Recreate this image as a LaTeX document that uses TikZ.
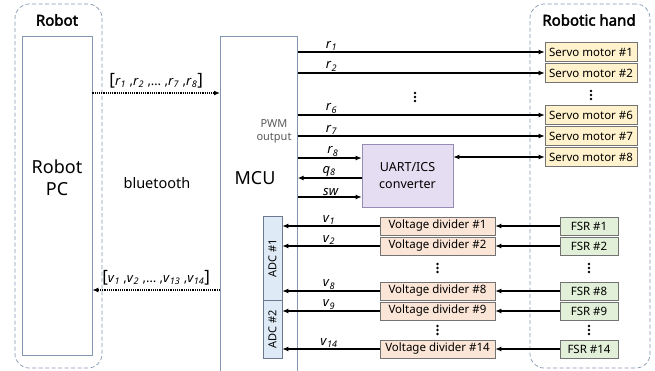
\documentclass[tikz,border=0pt]{standalone}
\usepackage{fontspec}
\setmainfont{Noto Sans}[AutoFakeBold=2.5]
\usetikzlibrary{arrows.meta,calc}

\definecolor{frame}{RGB}{132,151,176}
\definecolor{boxline}{RGB}{115,115,115}
\definecolor{servofill}{RGB}{255,242,204}
\definecolor{divfill}{RGB}{251,229,214}
\definecolor{fsrfill}{RGB}{226,240,217}
\definecolor{uartfill}{RGB}{229,222,242}
\definecolor{uartline}{RGB}{150,140,180}
\definecolor{adcfill}{RGB}{222,235,247}
\definecolor{pwmtext}{RGB}{89,89,89}

\newcommand{\varsub}[2]{\textit{#1}\textsubscript{\textit{#2}}}
\newcommand{\threedots}[2]{\foreach \k in {-4,0,4} \fill (#1,#2+\k) circle (1.4);}

\begin{document}
\begin{tikzpicture}[x=1pt,y=-1pt,
    group/.style={draw=frame,dash pattern=on 4pt off 2.5pt,rounded corners=14pt,line width=0.7pt},
    unit/.style={draw=frame,line width=0.7pt},
    part/.style={draw=boxline,line width=0.7pt,inner sep=0pt,font=\fontsize{11.5}{12}\selectfont},
    servo/.style={part,fill=servofill,minimum width=92,minimum height=19},
    divider/.style={part,fill=divfill,minimum width=115,minimum height=18},
    fsr/.style={part,fill=fsrfill,minimum width=58,minimum height=18},
    adc/.style={part,draw=frame!80!black,fill=adcfill,minimum width=19},
    sig/.style={line width=1.1pt,-{Latex[length=6pt,width=5pt]}},
    link/.style={line width=1.2pt,densely dotted,-{Latex[length=6pt,width=5pt]}},
    lab/.style={font=\fontsize{13}{13}\selectfont,inner sep=1pt,above},
    title/.style={font=\fontsize{15}{15}\selectfont\bfseries}]
    \pgfmathsetmacro{\xservo}{591} % servo column
    \pgfmathsetmacro{\xdiv}{437.5} % voltage divider column
    \pgfmathsetmacro{\xfsr}{589} % FSR column

    \path[use as bounding box] (0,0) rectangle (655,370);
    \clip (0,0) rectangle (655,370);

    % robot side
    \node[group,minimum width=87,minimum height=364] (robot) at (58.5,186) {};
    \node[title] (robottitle) at (57,20) {Robot};
    \node[unit,minimum width=70,minimum height=319] (pc) at (57,195.5) {};
    \node[font=\fontsize{18}{22}\selectfont,align=center] (pctext) at (57,178) {Robot\\PC};

    % hand side
    \node[group,minimum width=120,minimum height=364] (hand) at (590,186) {};
    \node[title] (handtitle) at (589,20) {Robotic hand};

    % MCU
    \node[unit,minimum width=77,minimum height=364,anchor=north west] (mcu) at (220,36) {};
    \node[font=\fontsize{18}{18}\selectfont] (mcutext) at (255,178) {MCU};
    \node[font=\fontsize{11}{13}\selectfont,text=pwmtext,align=center] (pwm) at (274,131) {PWM\\output};
    \node[font=\fontsize{14.5}{14.5}\selectfont] (bluetooth) at (157,183) {bluetooth};

    % bluetooth links
    \coordinate (up) at (0,93);
    \coordinate (down) at (0,290);
    \draw[link] (pc.east |- up) -- node[above=1pt,font=\fontsize{13}{13}\selectfont] (rlist)
        {{\fontsize{17}{17}\selectfont[}\varsub{r}{1} ,\varsub{r}{2} ,… ,\varsub{r}{7} ,\varsub{r}{8}{\fontsize{17}{17}\selectfont]}}
        (mcu.west |- up);
    \draw[link] (mcu.west |- down) -- node[above=1pt,font=\fontsize{13}{13}\selectfont] (vlist)
        {{\fontsize{17}{17}\selectfont[}\varsub{v}{1} ,\varsub{v}{2} ,… ,\varsub{v}{13} ,\varsub{v}{14}{\fontsize{17}{17}\selectfont]}}
        (pc.east |- down);

    % servo motors
    \foreach \n/\y in {1/52,2/73,6/115,7/136,8/157}
        \node[servo] (s\n) at (\xservo,\y) {Servo motor \#\n};
    \foreach \n in {1,2,6,7}
        \draw[sig] (mcu.east |- s\n) -- node[lab,pos=0.137] {\varsub{r}{\n}} (s\n.west);
    \threedots{415}{97} % dots PWM lines
    \threedots{\xservo}{95} % dots servos

    % UART/ICS converter
    \node[part,draw=uartline,fill=uartfill,minimum width=91,minimum height=63,align=center,
          font=\fontsize{12.5}{17}\selectfont] (uart) at (407.5,175.5) {UART/ICS\\converter};
    \coordinate (r8) at (0,158);
    \coordinate (q8) at (0,178);
    \coordinate (sw) at (0,197);
    \draw[sig] (mcu.east |- r8) -- node[lab,pos=0.55] {\varsub{r}{8}} (uart.west |- r8);
    \draw[sig] (uart.west |- q8) -- node[lab,pos=0.51] {\varsub{q}{8}} (mcu.east |- q8);
    \draw[sig] (mcu.east |- sw) -- node[lab,pos=0.52] {\textit{sw}} (uart.west |- sw);
    \draw[sig,{Latex[length=6pt,width=5pt]}-{Latex[length=6pt,width=5pt]}] (uart.east |- s8) -- (s8.west);

    % ADCs
    \node[adc,minimum height=84] (adc1) at (272.5,258) {};
    \node[adc,minimum height=58] (adc2) at (272.5,329) {};
    \node[rotate=90,font=\fontsize{11}{11}\selectfont] (adc1text) at (adc1) {ADC \#1};
    \node[rotate=90,font=\fontsize{11}{11}\selectfont] (adc2text) at (adc2) {ADC \#2};

    % voltage dividers and FSRs
    \foreach \n/\y in {1/226,2/246,8/291,9/311,14/349} {
        \node[divider] (d\n) at (\xdiv,\y) {Voltage divider \#\n};
        \node[fsr] (f\n) at (\xfsr,\y) {FSR \#\n};
        \draw[sig] (f\n.west) -- (d\n.east);
    }
    \foreach \n/\a in {1/1,2/1,8/1,9/2,14/2}
        \draw[sig] (d\n.west) -- node[lab,pos=0.52] {\varsub{v}{\n}} (adc\a.east |- d\n);
    \threedots{\xdiv}{268} % dots dividers
    \threedots{\xfsr}{268} % dots FSRs
    \threedots{\xdiv}{330}
    \threedots{\xfsr}{330}
\end{tikzpicture}
\end{document}
